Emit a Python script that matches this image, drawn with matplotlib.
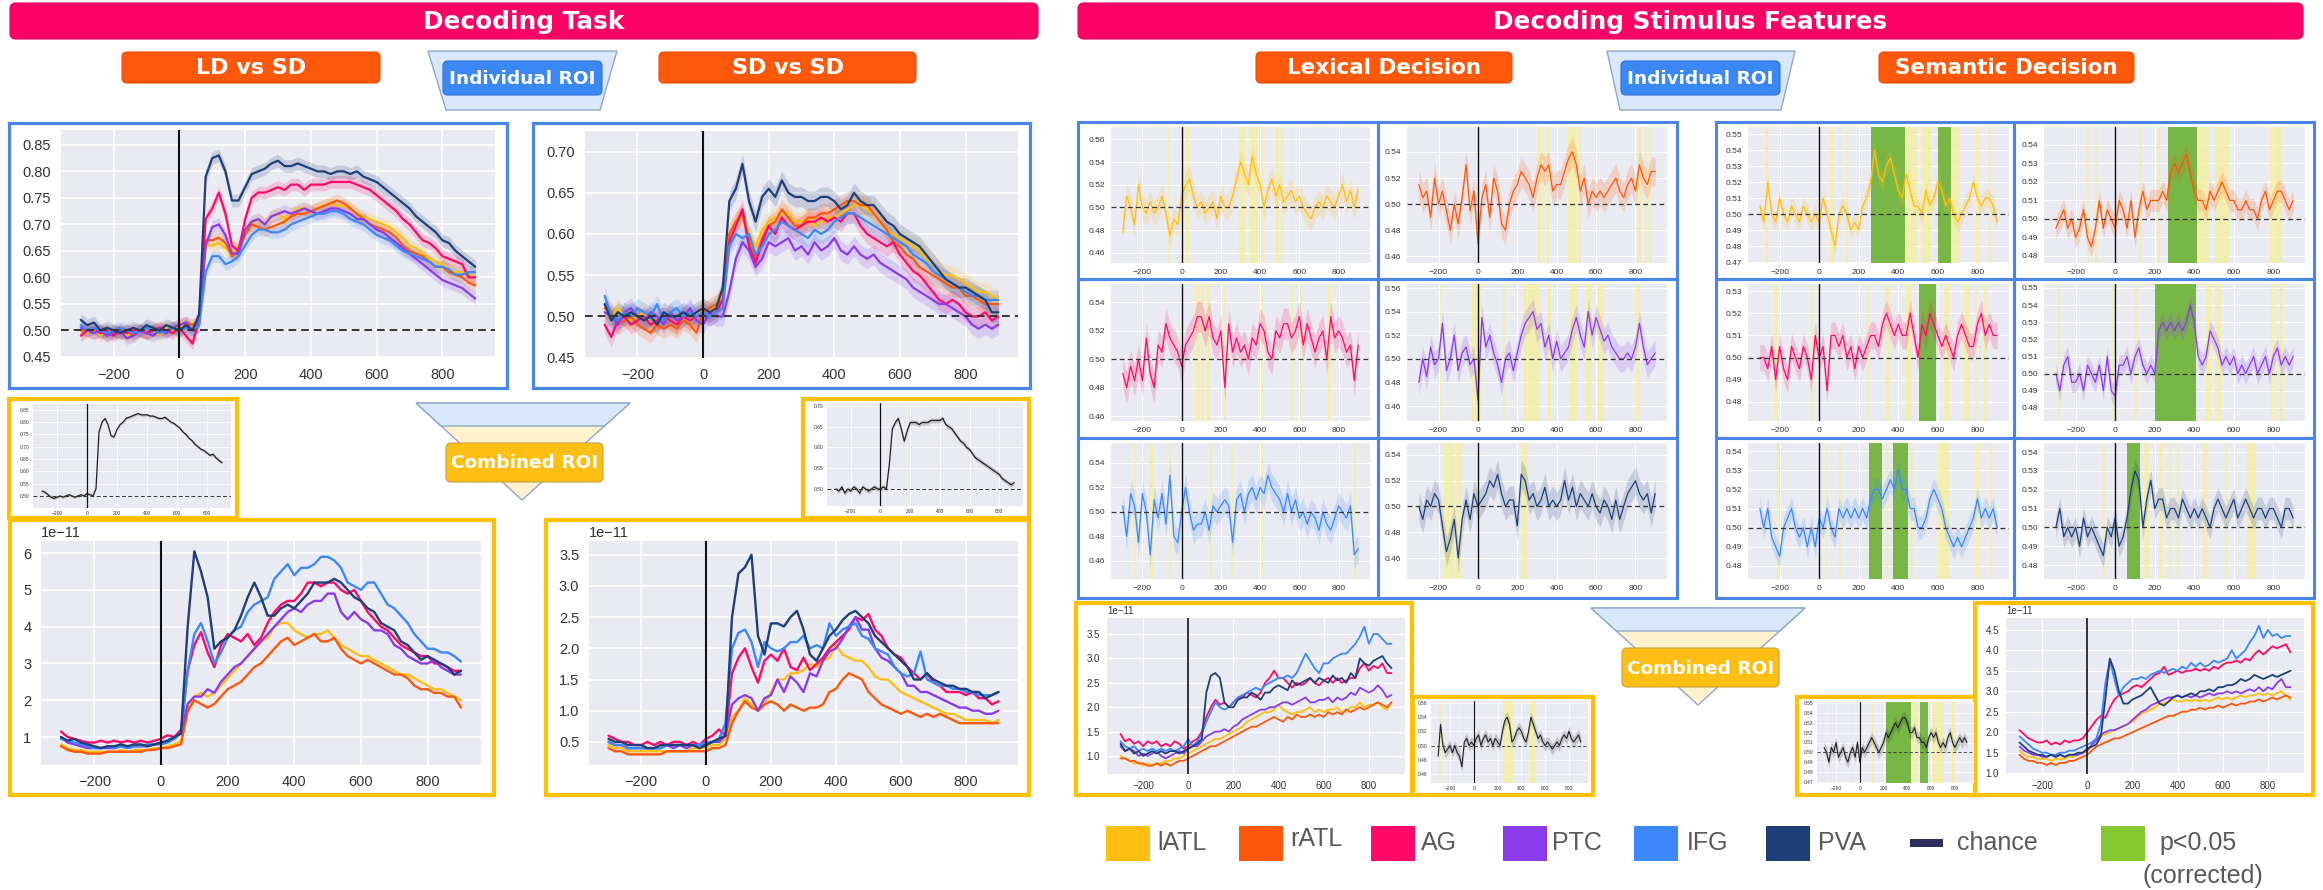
import numpy as np
import matplotlib
matplotlib.use("Agg")
import matplotlib.pyplot as plt
import seaborn as sns
from matplotlib.patches import Rectangle, FancyBboxPatch, Polygon
from matplotlib.ticker import FormatStrFormatter

sns.set_style("darkgrid")
plt.rcParams['font.family'] = ['Liberation Sans', 'DejaVu Sans']

# ---------------- data ----------------
T = list(range(-300, 901, 20))
roi_names = ['lATL', 'rATL', 'AG', 'PTC', 'IFG', 'PVA']
roi_colors = ['#FFBF10', '#FC580C', '#FF0A68', '#8A3CEA', '#3B88FD', '#1F3F78']
xticks = [-200, 0, 200, 400, 600, 800]

# Decoding task, LD vs SD, individual ROI
A_lATL = [.50,.495,.505,.49,.50,.495,.50,.49,.495,.50,.495,.50,.49,.505,.50,.51,.505,.51,
          .52,.66,.66,.665,.655,.645,.66,.69,.70,.71, .70,.715,.72,.71,.72,.73,.73,.725,.73,.735,
          .74,.735,.735,.73,.72,.715,.71,.705,.70,.695, .685,.675,.66,.655,.645,.635,.63,.625,.615,.61, .61,.605,.60]
A_rATL = [.50,.50,.495,.50,.49,.50,.495,.50,.49,.50,.495,.50,.505,.50,.505,.51,.515,.51,
          .52,.67,.67,.675,.665,.64,.65,.68,.70,.695, .69,.695,.70,.705,.715,.72,.72,.725,.73,.735,
          .74,.745,.74,.73,.72,.71,.70,.695,.69,.685, .675,.66,.65,.645,.64,.63,.62,.62,.61,.605, .60,.59,.585]
A_AG = [.49,.50,.505,.495,.50,.49,.50,.495,.50,.50,.495,.50,.505,.50,.495,.505,.49,.475,
        .52,.71,.73,.76,.72,.66,.65,.71,.75,.76, .76,.765,.77,.765,.775,.775,.765,.775,.775,.775,
        .78,.78,.78,.78,.775,.77,.765,.755,.745,.735, .725,.71,.70,.685,.67,.665,.655,.64,.635,.63, .625,.60,.60]
A_PTC = [.505,.50,.495,.50,.49,.495,.50,.485,.49,.50,.495,.49,.50,.495,.505,.51,.515,.50,
         .51,.66,.695,.70,.68,.645,.645,.69,.705,.71, .70,.715,.72,.725,.72,.725,.73,.725,.72,.725,
         .73,.73,.725,.72,.71,.71,.70,.69,.685,.675, .665,.655,.645,.635,.625,.615,.605,.595,.59,.585, .58,.57,.56]
A_IFG = [.51,.50,.505,.50,.495,.50,.505,.50,.495,.50,.505,.50,.495,.50,.505,.50,.505,.50,
         .51,.61,.64,.64,.625,.63,.64,.66,.68,.69, .69,.685,.685,.69,.70,.705,.71,.715,.72,.72,
         .725,.725,.72,.71,.705,.70,.69,.68,.675,.67, .66,.65,.645,.64,.635,.63,.62,.62,.615,.605, .605,.61,.61]
A_PVA = [.52,.51,.515,.50,.505,.50,.495,.50,.505,.50,.51,.505,.50,.51,.505,.50,.51,.50,
         .53,.79,.825,.83,.80,.745,.745,.77,.795,.80, .805,.815,.82,.81,.81,.815,.81,.805,.80,.80,
         .795,.80,.80,.795,.80,.79,.785,.78,.77,.76, .75,.74,.73,.715,.705,.695,.685,.67,.665,.65, .64,.63,.62]

# Decoding task, SD vs SD, individual ROI
B_lATL = [.505,.50,.51,.50,.495,.50,.505,.49,.495,.50,.495,.49,.50,.495,.50,.51,.505,.515,
          .525,.60,.615,.62,.60,.585,.605,.615,.62,.625, .625,.615,.615,.62,.61,.615,.62,.62,.625,.63,
          .635,.635,.63,.625,.615,.605,.60,.595,.59,.585, .58,.57,.565,.555,.55,.55,.545,.54,.535,.53, .53,.525,.52]
B_rATL = [.51,.505,.49,.495,.50,.49,.485,.48,.49,.485,.49,.485,.495,.49,.48,.505,.51,.515,
          .52,.60,.615,.625,.59,.57,.595,.61,.615,.63, .62,.61,.61,.62,.62,.625,.625,.63,.635,.64,
          .64,.635,.635,.625,.615,.605,.59,.585,.575,.57, .56,.555,.55,.545,.54,.535,.535,.525,.525,.52, .515,.515,.515]
B_AG = [.49,.475,.495,.50,.49,.495,.50,.49,.495,.50,.495,.49,.50,.495,.50,.505,.50,.505,
        .52,.59,.61,.63,.585,.565,.59,.61,.60,.62, .61,.605,.61,.615,.615,.62,.615,.62,.615,.625,
        .625,.61,.60,.595,.59,.585,.59,.575,.565,.555, .55,.54,.53,.52,.515,.52,.515,.505,.50,.50, .505,.495,.50]
B_PTC = [.505,.50,.49,.505,.51,.50,.495,.505,.50,.49,.505,.495,.50,.51,.495,.49,.505,.50,
         .50,.53,.57,.59,.58,.56,.57,.59,.585,.59, .595,.58,.585,.575,.59,.58,.585,.595,.58,.575,
         .585,.575,.57,.575,.565,.56,.555,.55,.545,.535, .53,.525,.52,.515,.515,.51,.505,.50,.49,.485, .49,.485,.49]
B_IFG = [.525,.50,.495,.505,.50,.51,.505,.50,.515,.495,.505,.51,.50,.505,.50,.505,.50,.505,
         .51,.585,.60,.595,.60,.575,.585,.60,.605,.615, .61,.605,.60,.595,.605,.60,.605,.615,.62,.625,
         .625,.62,.615,.61,.605,.60,.595,.59,.585,.575, .57,.565,.555,.55,.545,.54,.535,.53,.525,.525, .52,.52,.52]
B_PVA = [.515,.495,.505,.50,.505,.50,.495,.50,.49,.505,.50,.50,.505,.50,.505,.51,.505,.51,
         .535,.64,.655,.685,.64,.615,.645,.655,.645,.665, .65,.645,.645,.64,.64,.645,.645,.64,.63,.635,
         .65,.64,.635,.635,.625,.615,.61,.60,.595,.59, .585,.575,.565,.555,.545,.54,.535,.535,.53,.525, .52,.505,.505]

# Decoding task, combined ROI accuracy
A_comb = [.52,.515,.505,.495,.49,.495,.50,.495,.50,.505,.50,.495,.50,.505,.50,.51,.505,.50,
          .53,.76,.80,.815,.79,.745,.74,.77,.79,.80, .815,.82,.825,.83,.835,.83,.83,.83,.825,.825,
          .82,.815,.815,.82,.81,.80,.795,.785,.775,.76, .75,.735,.725,.71,.70,.69,.685,.675,.665,.67, .655,.645,.635]
B_comb = [.50,.495,.505,.49,.50,.495,.505,.50,.49,.505,.50,.495,.50,.505,.50,.50,.505,.50,
          .56,.645,.66,.67,.645,.615,.64,.66,.66,.66, .655,.66,.66,.66,.665,.665,.665,.665,.67,.655,
          .65,.645,.635,.625,.615,.61,.60,.595,.585,.575, .57,.565,.56,.555,.55,.545,.54,.535,.525,.52, .515,.51,.515]

# Decoding task, combined ROI activation patterns (x 1e-11)
Aw_lATL = [.8,.7,.65,.65,.6,.6,.6,.6,.6,.65,.6,.65,.65,.65,.7,.7,.75,.8,
           .9,1.8,2.1,2.2,2.1,2.2,2.4,2.6,2.8,3.0, 3.2,3.4,3.6,3.7,4.0,4.1,4.1,3.9,3.8,3.7,
           3.8,3.8,3.9,3.7,3.5,3.4,3.3,3.2,3.2,3.1, 3.0,2.9,2.8,2.7,2.7,2.6,2.5,2.4,2.3,2.3, 2.2,2.1,2.0]
Aw_rATL = [.75,.65,.6,.6,.55,.55,.55,.6,.6,.6,.6,.6,.6,.65,.65,.7,.7,.75,
           .8,1.7,2.0,1.9,1.8,1.9,2.1,2.3,2.4,2.5, 2.7,2.9,3.0,3.2,3.4,3.6,3.7,3.5,3.6,3.7,
           3.8,3.6,3.6,3.7,3.4,3.2,3.1,3.0,3.1,3.0, 2.9,2.8,2.7,2.7,2.6,2.4,2.3,2.3,2.2,2.2, 2.1,2.1,1.8]
Aw_AG = [1.15,1.0,.95,.9,.85,.85,.9,.85,.9,.85,.9,.85,.9,.85,.9,.95,1.05,1.0,
         1.2,2.8,3.5,3.85,3.3,2.9,3.5,3.8,3.7,3.6, 3.8,3.5,3.7,4.1,4.4,4.6,4.7,4.7,4.9,5.2,
         5.2,5.1,5.2,5.2,5.0,4.9,5.0,4.7,4.4,4.2, 4.0,3.9,3.7,3.5,3.4,3.3,3.2,3.2,3.0,3.0, 2.9,2.8,2.8]
Aw_PTC = [1.0,.85,.8,.75,.7,.7,.7,.7,.7,.75,.7,.75,.75,.75,.8,.85,.9,1.0,
          1.1,1.9,2.1,2.1,2.3,2.2,2.5,2.7,2.9,3.0, 3.2,3.4,3.6,3.8,4.0,4.2,4.4,4.5,4.4,4.6,
          4.7,4.7,4.9,4.9,4.4,4.2,4.4,4.2,4.1,3.9, 3.9,3.8,3.5,3.4,3.2,3.1,3.0,3.0,3.1,2.9, 2.8,2.7,2.7]
Aw_IFG = [.95,.9,.85,.8,.75,.7,.7,.75,.7,.75,.7,.75,.75,.8,.8,.8,.85,.95,
          1.1,2.8,3.8,4.1,3.6,3.0,3.3,3.7,3.9,4.0, 4.4,4.6,4.7,4.8,5.3,5.5,5.7,5.4,5.6,5.6,
          5.7,5.9,5.9,5.8,5.6,5.2,5.1,5.0,5.2,5.2, 4.9,4.6,4.5,4.3,4.1,3.8,3.6,3.4,3.4,3.3, 3.3,3.2,3.05]
Aw_PVA = [1.0,.9,.95,.85,.8,.75,.7,.75,.75,.8,.75,.8,.8,.75,.8,.85,.9,1.0,
          1.1,4.0,6.05,5.5,4.8,3.4,3.6,3.7,3.9,4.3, 4.8,5.2,4.8,4.3,4.3,4.5,4.6,4.5,4.7,4.9,
          5.2,5.2,5.2,5.3,5.2,5.0,4.8,4.7,4.5,4.4, 4.1,4.0,3.9,3.6,3.5,3.3,3.1,3.2,3.1,3.0, 2.9,2.7,2.8]

Bw_lATL = [.45,.4,.4,.35,.35,.35,.35,.35,.35,.35,.35,.35,.35,.4,.4,.4,.45,.45,
           .55,.9,1.0,1.2,1.1,1.0,1.1,1.3,1.5,1.5, 1.6,1.6,1.65,1.75,1.7,1.8,1.85,2.05,1.9,1.85,
           1.8,1.8,1.7,1.55,1.5,1.5,1.4,1.3,1.25,1.2, 1.15,1.1,1.05,1.0,.95,.95,.9,.85,.85,.85, .85,.8,.85]
Bw_rATL = [.4,.35,.35,.3,.3,.3,.3,.3,.3,.35,.35,.35,.35,.35,.35,.35,.4,.4,
           .45,.8,1.0,1.15,1.05,1.0,1.1,1.15,1.1,1.0, 1.1,1.05,1.0,1.05,1.05,1.1,1.3,1.35,1.5,1.6,
           1.55,1.5,1.3,1.2,1.1,1.05,1.0,.95,1.0,.95, .9,.95,.9,.95,.9,.85,.8,.8,.8,.8, .8,.8,.8]
Bw_AG = [.6,.55,.5,.5,.45,.45,.5,.45,.5,.45,.5,.5,.45,.5,.45,.55,.6,.7,
         .6,1.6,1.85,2.0,1.7,1.45,1.8,1.9,1.8,2.0, 1.7,1.65,1.85,1.65,1.75,1.85,2.0,2.1,2.2,2.3,
         2.5,2.45,2.55,2.3,2.2,2.0,1.9,1.85,1.7,1.6, 1.5,1.6,1.45,1.4,1.3,1.3,1.3,1.25,1.3,1.2, 1.2,1.1,1.15]
Bw_PTC = [.5,.45,.45,.4,.4,.4,.4,.4,.4,.45,.4,.45,.4,.45,.45,.45,.5,.5,
          .6,1.1,1.2,1.25,1.2,1.0,1.2,1.25,1.5,1.3, 1.55,1.45,1.3,1.6,1.55,1.8,1.95,2.0,2.15,2.35,
          2.5,2.3,2.3,2.0,1.85,1.8,1.7,1.6,1.4,1.4, 1.3,1.3,1.25,1.2,1.15,1.1,1.05,1.05,1.0,1.0, .95,.95,1.0]
Bw_IFG = [.5,.45,.45,.4,.4,.4,.4,.4,.4,.45,.45,.45,.45,.45,.45,.5,.5,.55,
          .8,2.0,2.25,2.3,2.1,1.7,2.1,2.0,1.95,2.0, 2.1,2.1,2.2,2.0,2.05,2.0,2.4,2.2,2.3,2.35,
          2.4,2.2,2.15,2.0,1.95,1.9,1.7,1.6,1.55,1.6, 1.95,1.5,1.45,1.4,1.4,1.35,1.35,1.3,1.3,1.25, 1.25,1.25,1.3]
Bw_PVA = [.55,.5,.5,.45,.45,.45,.4,.4,.45,.45,.45,.45,.45,.45,.4,.45,.5,.55,
          .6,2.5,3.2,3.3,3.5,2.2,1.9,2.4,2.4,2.35, 2.5,2.6,2.3,1.9,1.8,2.0,2.2,2.3,2.45,2.55,
          2.6,2.5,2.4,2.2,2.1,2.0,1.9,1.8,1.7,1.5, 1.5,1.6,1.5,1.45,1.4,1.4,1.35,1.35,1.3,1.3, 1.2,1.25,1.3]

# Stimulus features, lexical decision, individual ROI
L_lATL = [.478,.51,.50,.485,.52,.50,.495,.505,.495,.50, .51,.495,.475,.49,.485,.51,.52,.525,.51,.50,
          .505,.495,.50,.505,.49,.51,.50,.50,.51,.525, .54,.53,.52,.545,.53,.52,.50,.515,.525,.51,
          .52,.505,.51,.515,.505,.51,.50,.495,.49,.50, .505,.50,.51,.505,.50,.51,.52,.505,.515,.50, .515]
L_rATL = [.515,.505,.51,.49,.52,.50,.51,.495,.48,.50, .485,.505,.53,.495,.51,.47,.505,.515,.49,.52,
          .51,.485,.48,.50,.51,.515,.525,.52,.515,.505, .52,.53,.525,.53,.51,.515,.515,.525,.535,.54,
          .53,.51,.52,.50,.51,.505,.51,.505,.51,.515, .52,.51,.505,.515,.52,.51,.53,.52,.515,.525, .525]
L_AG = [.49,.48,.495,.485,.50,.485,.515,.49,.48,.51, .505,.525,.515,.51,.505,.495,.51,.515,.52,.53,
        .53,.52,.53,.515,.51,.52,.48,.525,.505,.515, .505,.51,.50,.515,.51,.525,.52,.505,.50,.52,
        .515,.525,.525,.515,.52,.53,.51,.525,.515,.505, .515,.52,.50,.53,.515,.52,.515,.505,.51,.485, .51]
L_PTC = [.48,.50,.485,.51,.495,.50,.53,.49,.50,.52, .49,.505,.51,.495,.50,.465,.535,.51,.52,.505,
         .495,.48,.50,.505,.49,.505,.52,.53,.535,.54, .525,.53,.51,.52,.50,.515,.50,.505,.51,.525,
         .535,.52,.51,.54,.52,.535,.525,.515,.52,.51, .505,.50,.50,.505,.50,.51,.53,.51,.495,.50, .505]
L_IFG = [.505,.48,.515,.505,.475,.515,.50,.465,.51,.495, .515,.49,.53,.48,.475,.50,.52,.50,.485,.49,
         .49,.50,.485,.505,.50,.505,.51,.505,.475,.51, .515,.50,.515,.52,.51,.52,.515,.53,.52,.515,
         .51,.50,.515,.50,.51,.495,.50,.49,.50,.495, .485,.50,.49,.485,.495,.505,.50,.495,.505,.465, .47]
L_PVA = [.50,.49,.505,.50,.51,.505,.485,.465,.475,.49, .46,.49,.505,.49,.51,.50,.505,.51,.52,.515,
         .525,.51,.50,.505,.505,.485,.525,.52,.505,.51, .50,.505,.515,.50,.505,.50,.505,.52,.505,.515,
         .50,.51,.505,.50,.51,.50,.495,.505,.50,.49, .505,.49,.50,.51,.515,.52,.51,.505,.51,.495, .51]

# Stimulus features, semantic decision, individual ROI
S_lATL = [.505,.495,.52,.50,.495,.51,.50,.495,.505,.50, .495,.505,.50,.495,.50,.495,.51,.50,.49,.48,
          .50,.505,.50,.49,.495,.49,.505,.51,.52,.54, .525,.52,.53,.535,.525,.515,.51,.525,.515,.505,
          .505,.50,.515,.505,.51,.52,.515,.505,.51,.50, .495,.50,.505,.51,.52,.51,.505,.51,.51,.505, .495]
S_rATL = [.495,.50,.505,.495,.50,.49,.495,.505,.49,.485, .495,.51,.495,.505,.50,.495,.51,.505,.495,.51,
          .49,.505,.515,.505,.51,.51,.51,.515,.51,.525, .53,.525,.53,.535,.525,.515,.51,.51,.505,.515,
          .51,.515,.52,.515,.51,.51,.505,.505,.51,.505, .505,.50,.51,.515,.505,.51,.515,.515,.51,.505, .51]
S_AG = [.50,.50,.495,.505,.49,.505,.495,.49,.505,.50, .495,.505,.50,.49,.51,.50,.505,.485,.51,.51,
        .505,.51,.50,.505,.495,.505,.50,.505,.51,.51, .505,.515,.52,.515,.51,.515,.51,.51,.52,.51,
        .50,.515,.51,.52,.515,.51,.505,.51,.505,.50, .51,.515,.51,.505,.505,.515,.52,.51,.515,.51, .51]
S_PTC = [.50,.49,.505,.51,.495,.495,.50,.49,.505,.50, .495,.505,.49,.51,.49,.487,.505,.505,.51,.50,
         .51,.515,.505,.50,.505,.50,.525,.53,.525,.53, .525,.53,.525,.53,.54,.53,.51,.505,.51,.525,
         .52,.515,.505,.51,.505,.51,.50,.505,.50,.505, .51,.50,.505,.51,.50,.51,.515,.505,.51,.505, .51]
S_IFG = [.51,.50,.51,.495,.49,.485,.50,.505,.51,.50, .495,.50,.49,.50,.49,.505,.50,.51,.50,.495,
         .51,.505,.51,.505,.51,.505,.51,.505,.515,.52, .52,.515,.52,.525,.52,.53,.52,.52,.51,.51,
         .50,.50,.505,.515,.52,.515,.51,.50,.495,.49, .495,.49,.495,.50,.505,.515,.505,.51,.505,.51, .50]
S_PVA = [.50,.51,.495,.50,.495,.50,.49,.505,.495,.50, .495,.49,.485,.50,.495,.505,.49,.495,.505,.52,
         .53,.525,.50,.515,.525,.51,.515,.515,.505,.51, .51,.505,.515,.51,.505,.51,.505,.51,.505,.50,
         .51,.515,.51,.505,.51,.515,.505,.51,.515,.51, .505,.51,.51,.505,.51,.51,.505,.50,.51,.51, .505]

# Stimulus features, combined ROI accuracy
L_comb = [.485,.53,.50,.49,.495,.50,.49,.50,.49,.485, .47,.505,.51,.50,.505,.50,.51,.515,.50,.51,
          .515,.505,.51,.50,.51,.505,.50,.52,.535,.54, .53,.505,.51,.52,.525,.52,.51,.505,.52,.54,
          .53,.52,.51,.515,.505,.50,.505,.50,.495,.50, .505,.50,.51,.515,.51,.52,.51,.505,.51,.515, .505]
S_comb = [.505,.50,.49,.505,.50,.51,.495,.50,.505,.495, .49,.50,.505,.495,.51,.49,.505,.50,.505,.51,
          .515,.51,.505,.50,.505,.51,.52,.515,.52,.525, .53,.525,.53,.535,.535,.53,.52,.52,.525,.515,
          .515,.51,.51,.505,.515,.52,.515,.52,.51,.505, .51,.505,.515,.52,.51,.505,.51,.515,.51,.515, .51]

# Stimulus features, combined ROI activation patterns (x 1e-11)
Lw_lATL = [1.0,.95,.9,.85,.85,.8,.85,.8,.85,.85,.9,.9,.95,.95,1.0,1.05,1.1,1.15,
           1.2,1.25,1.3,1.35,1.35,1.4,1.45,1.5,1.55,1.6, 1.7,1.75,1.8,1.85,1.9,1.9,1.95,2.05,1.95,1.9,
           1.85,1.9,1.9,1.95,2.0,1.9,1.95,1.9,1.95,1.95, 2.0,1.9,1.95,2.0,2.0,2.1,2.0,2.05,2.05,2.1, 2.0,1.95,2.1]
Lw_rATL = [.95,.95,.9,.9,.85,.85,.8,.8,.85,.8,.85,.8,.85,.9,.9,.95,1.0,1.05,
           1.1,1.15,1.2,1.2,1.25,1.3,1.35,1.4,1.45,1.5, 1.55,1.6,1.6,1.65,1.7,1.75,1.8,1.75,1.7,1.8,
           1.75,1.85,1.8,1.8,1.85,1.8,1.85,1.8,1.9,1.85, 1.9,1.85,1.95,1.9,1.95,2.0,1.95,2.0,2.05,2.1, 2.05,2.0,2.1]
Lw_AG = [1.45,1.3,1.35,1.25,1.3,1.2,1.3,1.25,1.3,1.2,1.25,1.2,1.3,1.25,1.15,1.2,1.3,1.35,
         1.5,1.8,2.0,2.15,2.05,2.1,2.0,2.1,2.2,2.2, 2.3,2.25,2.2,2.3,2.5,2.6,2.75,2.6,2.6,2.5,
         2.4,2.5,2.45,2.5,2.6,2.5,2.45,2.55,2.6,2.5, 2.6,2.5,2.55,2.6,2.6,2.8,2.9,2.75,2.85,2.8, 2.9,2.7,2.7]
Lw_PTC = [1.2,1.1,1.15,1.1,1.0,1.05,1.0,1.05,1.1,1.0,.95,1.0,1.05,1.1,1.05,1.15,1.2,1.2,
          1.3,1.4,1.45,1.5,1.5,1.55,1.5,1.6,1.65,1.75, 1.8,1.85,1.9,1.95,1.95,2.0,2.0,2.05,2.1,2.1,
          2.05,2.1,2.15,2.2,2.1,2.1,2.15,2.15,2.2,2.1, 2.2,2.15,2.2,2.3,2.25,2.4,2.35,2.3,2.35,2.45, 2.35,2.2,2.25]
Lw_IFG = [1.3,1.2,1.15,1.2,1.1,1.15,1.1,1.15,1.1,1.15,1.1,1.15,1.1,1.15,1.2,1.35,1.2,1.3,
          1.45,1.7,1.9,2.1,2.0,1.95,2.0,2.1,2.2,2.25, 2.3,2.35,2.4,2.35,2.45,2.5,2.55,2.6,2.6,2.65,
          2.6,2.7,2.9,3.1,2.95,2.8,2.7,2.9,2.9,3.0, 3.05,3.1,3.1,3.2,3.3,3.45,3.65,3.3,3.5,3.5, 3.4,3.3,3.3]
Lw_PVA = [1.25,1.1,1.15,1.05,1.1,1.0,1.05,1.1,1.05,1.1,1.05,1.1,1.1,1.05,1.1,1.15,1.2,1.25,
          1.35,2.3,2.65,2.7,2.6,2.1,2.0,2.0,2.15,2.2, 2.2,2.3,2.25,2.15,2.3,2.3,2.4,2.45,2.4,2.35,
          2.55,2.45,2.5,2.55,2.6,2.5,2.6,2.55,2.5,2.65, 2.55,2.6,2.5,2.7,2.6,3.0,2.9,2.85,2.95,3.0, 3.05,2.9,2.8]

Sw_lATL = [1.55,1.45,1.4,1.4,1.35,1.35,1.35,1.3,1.35,1.35,1.35,1.4,1.4,1.45,1.5,1.55,1.65,1.75,
           1.9,1.95,2.0,2.05,2.1,2.15,2.2,2.25,2.35,2.45, 2.5,2.55,2.6,2.7,2.7,2.75,2.8,2.75,2.75,2.8,
           2.75,2.8,2.75,2.8,2.75,2.8,2.85,2.8,2.85,2.8, 2.85,2.9,2.85,2.9,2.9,2.95,2.9,2.95,2.9,2.95, 3.0,2.9,2.8]
Sw_rATL = [1.45,1.35,1.3,1.3,1.25,1.25,1.2,1.25,1.2,1.25,1.25,1.3,1.3,1.35,1.4,1.45,1.55,1.65,
           1.7,1.75,1.8,1.85,1.85,1.9,1.95,2.0,2.05,2.1, 2.15,2.2,2.25,2.3,2.35,2.4,2.4,2.45,2.5,2.5,
           2.55,2.55,2.6,2.55,2.6,2.6,2.65,2.6,2.65,2.7, 2.65,2.7,2.7,2.75,2.75,2.8,2.75,2.8,2.85,2.8, 2.85,2.9,2.85]
Sw_AG = [2.05,1.95,1.85,1.8,1.75,1.75,1.8,1.7,1.75,1.7,1.8,1.75,1.8,1.8,1.85,2.0,2.15,2.3,
         2.4,2.35,2.6,2.8,2.9,2.95,3.0,3.1,3.15,3.1, 3.2,3.3,3.4,3.45,3.6,3.4,3.45,3.5,3.45,3.5,
         3.5,3.55,3.5,3.55,3.5,3.6,3.55,3.65,3.7,3.7, 3.75,3.7,3.8,3.75,3.9,4.0,3.9,4.0,4.1,4.05, 4.1,4.15,3.95]
Sw_PTC = [1.65,1.55,1.5,1.45,1.45,1.4,1.4,1.45,1.4,1.45,1.4,1.45,1.45,1.45,1.5,1.55,1.7,1.8,
          1.95,2.0,2.05,2.05,2.1,2.15,2.2,2.3,2.4,2.5, 2.55,2.65,2.7,2.75,2.8,2.85,2.85,2.9,2.85,2.9,
          2.85,2.9,2.85,2.9,2.95,2.9,2.95,2.95,3.0,2.95, 3.0,2.95,3.0,3.05,3.0,3.1,3.0,3.1,3.05,3.2, 3.3,3.1,3.1]
Sw_IFG = [1.9,1.8,1.7,1.6,1.55,1.5,1.5,1.45,1.45,1.5,1.5,1.55,1.55,1.6,1.65,1.7,1.75,1.85,
          2.2,3.2,3.75,3.3,2.9,3.1,3.2,3.3,3.3,3.35, 3.3,3.4,3.45,3.5,3.45,3.5,3.55,3.5,3.6,3.55,
          3.7,3.6,3.7,3.6,3.65,3.75,3.7,3.75,3.8,4.0, 3.8,3.9,4.0,4.2,4.35,4.6,4.3,4.5,4.35,4.4, 4.3,4.35,4.35]
Sw_PVA = [1.75,1.65,1.55,1.5,1.45,1.45,1.4,1.45,1.4,1.45,1.4,1.45,1.45,1.5,1.5,1.6,1.65,1.7,
          1.9,2.8,3.8,3.5,3.0,2.7,2.7,2.8,2.85,2.9, 3.0,3.1,2.9,2.7,2.65,2.75,2.85,2.9,2.85,2.9,
          2.95,2.9,3.0,3.0,3.05,3.0,3.1,3.1,3.15,3.15, 3.2,3.3,3.25,3.3,3.4,3.35,3.3,3.35,3.4,3.35, 3.4,3.45,3.5]

# significant time windows (ms): uncorrected (yellow) and corrected (green)
L_yel_lATL = [(-70,-60),(20,40),(290,325),(350,390),(405,415),(480,495),(505,515),(555,565)]
L_yel_rATL = [(300,320),(330,340),(350,360),(457,502),(515,525),(810,835),(850,860),(870,880)]
L_yel_AG = [(73,95),(99,113),(122,143),(215,225),(405,413),(555,567),(603,615),(745,760)]
L_yel_PTC = [(-195,-185),(-28,22),(125,135),(232,248),(252,313),(357,373),(466,502),(547,578),(608,638),(800,822)]
L_yel_IFG = [(-244,-234),(-165,-145),(-63,-53),(143,153),(250,260),(405,415),(878,890)]
L_yel_PVA = [(-170,-123),(-110,-80),(220,255)]
S_yel_lATL = [(-273,-260),(53,73),(138,148),(437,493),(513,563),(670,710),(795,815),(860,870)]
S_yel_rATL = [(-145,-130),(-100,-85),(122,138),(210,225),(416,477),(507,578),(785,845)]
S_yel_AG = [(-228,-215),(-43,-33),(242,252),(335,357),(434,469),(631,655),(730,765),(790,803),(835,852)]
S_yel_PTC = [(-290,-280),(-15,-5),(100,115),(457,487),(507,537),(790,810),(833,850)]
S_yel_IFG = [(-212,-198),(32,42),(98,108),(335,350),(462,477),(596,655),(795,810),(864,875)]
S_yel_PVA = [(-62,-52),(148,173),(222,242),(270,280),(313,323),(442,467),(553,563),(666,712)]
S_grn_lATL = [(262,434),(602,665)]
S_grn_rATL = [(268,414)]
S_grn_AG = [(507,593)]
S_grn_PTC = [(203,410)]
S_grn_IFG = [(252,320),(374,449)]
S_grn_PVA = [(58,128)]
L_comb_yel = [(-295,-280),(-95,-80),(245,330),(470,520)]
S_comb_yel = [(-245,-235),(-75,-65),(105,115),(435,490),(610,710),(775,810)]
S_comb_grn = [(218,428),(503,570)]

# y ticks of the stimulus panels
L_yt = [[.46,.48,.50,.52,.54,.56], [.46,.48,.50,.52,.54], [.46,.48,.50,.52,.54],
        [.46,.48,.50,.52,.54,.56], [.46,.48,.50,.52,.54], [.46,.48,.50,.52,.54]]
S_yt = [[.47,.48,.49,.50,.51,.52,.53,.54,.55], [.48,.49,.50,.51,.52,.53,.54], [.48,.49,.50,.51,.52,.53],
        [.48,.49,.50,.51,.52,.53,.54,.55], [.48,.49,.50,.51,.52,.53,.54], [.48,.49,.50,.51,.52,.53,.54]]

# ---------------- figure ----------------
W, H = 2323, 890
fig = plt.figure(figsize=(W / 100, H / 100), dpi=100)
bg = fig.add_axes([0, 0, 1, 1])
bg.set_xlim(0, W)
bg.set_ylim(H, 0)
bg.axis('off')

BLUE = '#4A86E8'
GOLD = '#FFC000'
YEL = '#F6F09A'
GRN = '#72B43C'
HFONT = 'DejaVu Sans'


def add_ax(x0, x1, y0, y1):
    return fig.add_axes([x0 / W, 1 - y1 / H, (x1 - x0) / W, (y1 - y0) / H])


def panel(box, series, colors, ylim, yticks, fs, lw, sem=None, chance=True,
          yel=(), grn=(), glw=1.0, pad=5, scale=1.0, vlw=1.5, fmt='%.2f', dlw=1.4):
    ax = add_ax(*box)
    ax.set_facecolor('#EAEAF2')
    for a, b in yel:
        ax.axvspan(a, b, color=YEL, alpha=0.75, lw=0, zorder=1)
    for a, b in grn:
        ax.axvspan(a, b, color=GRN, alpha=0.95, lw=0, zorder=1.1)
    for y, c in zip(series, colors):
        yv = np.array(y) * scale
        if sem is not None:
            ax.fill_between(T, yv - sem * scale, yv + sem * scale, color=c, alpha=0.18, lw=0, zorder=2)
        ax.plot(T, yv, color=c, lw=lw, zorder=3)
    ax.axvline(0, color='#111111', lw=vlw, zorder=4)
    if chance:
        ax.axhline(0.5, color='#333333', lw=dlw, ls=(0, (4, 2.5)), zorder=4)
    ax.set_xlim(-360, 960)
    ax.set_ylim(ylim[0] * scale, ylim[1] * scale)
    ax.set_xticks(xticks)
    ax.set_yticks([v * scale for v in yticks])
    if fmt:
        ax.yaxis.set_major_formatter(FormatStrFormatter(fmt))
    ax.grid(True, color='white', lw=glw)
    ax.set_axisbelow(True)
    for s in ax.spines.values():
        s.set_visible(False)
    ax.tick_params(length=0, labelsize=fs, pad=pad, colors='#333333')
    ax.yaxis.get_offset_text().set_fontsize(fs)
    ax.yaxis.get_offset_text().set_color('#333333')
    return ax


def frame(x0, x1, y0, y1, color, lw):
    bg.add_patch(Rectangle((x0, y0), x1 - x0, y1 - y0, fill=False, ec=color, lw=lw, zorder=5))


def rbox(x0, x1, y0, y1, fc, ec, text, fs, r=5):
    bg.add_patch(FancyBboxPatch((x0, y0), x1 - x0, y1 - y0,
                                boxstyle=f'round,pad=0,rounding_size={r}', fc=fc, ec=ec, lw=0.8, zorder=6))
    bg.text((x0 + x1) / 2, (y0 + y1) / 2 + 1, text, color='white', fontsize=fs, fontweight='bold',
            family=HFONT, ha='center', va='center', zorder=7)


# header banners and boxes
rbox(10, 1038, 3, 39, '#FF0066', '#E8005C', 'Decoding Task', 17.8, r=6)
rbox(1078, 2303, 3, 39, '#FF0066', '#E8005C', 'Decoding Stimulus Features', 17.8, r=6)
rbox(122, 380, 52, 83, '#FE590B', '#E84E05', 'LD vs SD', 16)
rbox(659, 916, 52, 83, '#FE590B', '#E84E05', 'SD vs SD', 16)
rbox(1256, 1512, 52, 83, '#FE590B', '#E84E05', 'Lexical Decision', 15.5)
rbox(1879, 2134, 52, 83, '#FE590B', '#E84E05', 'Semantic Decision', 15.5)

# "Individual ROI" trapezoids
for (tl, tr, bl, br, bx0, bx1) in [(428, 617, 446, 600, 443, 602), (1607, 1795, 1620, 1781, 1621, 1780)]:
    bg.add_patch(Polygon([[tl, 51], [tr, 51], [br, 110], [bl, 110]], closed=True,
                         fc='#DAE8FC', ec='#8EA9C9', lw=1, zorder=4))
    rbox(bx0, bx1, 61, 95, '#3C87F6', '#2F6FD6', 'Individual ROI', 13.3)

# "Combined ROI" funnels
for (xl, xr, yt, xt, yb) in [(416, 630, 403, 522, 500), (1591, 1805, 608, 1698, 705)]:
    bg.add_patch(Polygon([[xl, yt], [xr, yt], [xt, yb]], closed=True, fc='#FFF2CC', ec='#8EA9C9', lw=1, zorder=4))
    yband = yt + 23
    fl = (yband - yt) / (yb - yt)
    bg.add_patch(Polygon([[xl, yt], [xr, yt], [xr + (xt - xr) * fl, yband], [xl + (xt - xl) * fl, yband]],
                         closed=True, fc='#DAE8FC', ec='#8EA9C9', lw=1, zorder=4.5))
    rbox(xt - 76, xt + 81, yt + 40, yt + 79, '#FDBF14', '#C9A040', 'Combined ROI', 13.3)

# ---------- Decoding task panels ----------
A_ind = [A_lATL, A_rATL, A_AG, A_PTC, A_IFG, A_PVA]
B_ind = [B_lATL, B_rATL, B_AG, B_PTC, B_IFG, B_PVA]
panel((61, 495, 130, 358), A_ind, roi_colors, (0.448, 0.878), [.45, .50, .55, .60, .65, .70, .75, .80, .85],
      10.5, 1.6, sem=0.012, glw=1.2, pad=7)
frame(9, 507, 123, 388, BLUE, 2.3)
panel((585, 1018, 131, 358), B_ind, roi_colors, (0.4495, 0.725), [.45, .50, .55, .60, .65, .70],
      10.5, 1.6, sem=0.012, glw=1.2, pad=7)
frame(533, 1030, 123, 388, BLUE, 2.3)

panel((33, 231, 404, 508), [A_comb], ['#222222'], (0.451, 0.874), [.50, .55, .60, .65, .70, .75, .80, .85],
      3.5, 0.9, sem=0.006, glw=0.6, pad=2.5, vlw=0.9, dlw=0.7)
frame(9, 237, 399, 518, GOLD, 3)
panel((827, 1023, 403, 506), [B_comb], ['#222222'], (0.459, 0.707), [.50, .55, .60, .65, .70],
      3.5, 0.9, sem=0.006, glw=0.6, pad=2.5, vlw=0.9, dlw=0.7)
frame(803, 1029, 399, 518, GOLD, 3)

A_w = [Aw_lATL, Aw_rATL, Aw_AG, Aw_PTC, Aw_IFG, Aw_PVA]
B_w = [Bw_lATL, Bw_rATL, Bw_AG, Bw_PTC, Bw_IFG, Bw_PVA]
panel((41, 481, 541, 765), A_w, roi_colors, (0.24, 6.33), [1, 2, 3, 4, 5, 6], 10.5, 1.7,
      chance=False, glw=1.2, pad=7, scale=1e-11, fmt=None)
frame(10, 494, 520, 795, GOLD, 3)
panel((589, 1018, 541, 765), B_w, roi_colors, (0.13, 3.72), [0.5, 1.0, 1.5, 2.0, 2.5, 3.0, 3.5], 10.5, 1.7,
      chance=False, glw=1.2, pad=7, scale=1e-11, fmt=None)
frame(546, 1029, 520, 795, GOLD, 3)

# ---------- Stimulus feature panels ----------
L_ind = [L_lATL, L_rATL, L_AG, L_PTC, L_IFG, L_PVA]
S_ind = [S_lATL, S_rATL, S_AG, S_PTC, S_IFG, S_PVA]
L_yel = [L_yel_lATL, L_yel_rATL, L_yel_AG, L_yel_PTC, L_yel_IFG, L_yel_PVA]
S_yel = [S_yel_lATL, S_yel_rATL, S_yel_AG, S_yel_PTC, S_yel_IFG, S_yel_PVA]
S_grn = [S_grn_lATL, S_grn_rATL, S_grn_AG, S_grn_PTC, S_grn_IFG, S_grn_PVA]
L_ylim = [(0.451, 0.571), (0.455, 0.559), (0.4565, 0.553), (0.4473, 0.5634), (0.4453, 0.5563), (0.4437, 0.5493)]
S_ylim = [(0.4694, 0.5544), (0.4762, 0.5497), (0.4714, 0.5332), (0.4724, 0.5523), (0.4732, 0.5442), (0.4726, 0.5448)]

rows_ax = [(127, 263), (284, 421), (443, 579)]
rows_fr = [(122, 279), (279, 438), (438, 598)]
L_cols_ax = [(1111, 1370), (1407, 1667)]
L_cols_fr = [(1078, 1378), (1378, 1677)]
S_cols_ax = [(1748, 2009), (2044, 2305)]
S_cols_fr = [(1716, 2014), (2014, 2314)]

for i in range(6):
    r, c = divmod(i, 2)
    panel((L_cols_ax[c][0], L_cols_ax[c][1], rows_ax[r][0], rows_ax[r][1]), [L_ind[i]], [roi_colors[i]],
          L_ylim[i], L_yt[i], 6, 0.9, sem=0.011, yel=L_yel[i], glw=0.7, pad=4, vlw=1.0, dlw=0.9)
    frame(L_cols_fr[c][0], L_cols_fr[c][1], rows_fr[r][0], rows_fr[r][1], BLUE, 2.2)
    panel((S_cols_ax[c][0], S_cols_ax[c][1], rows_ax[r][0], rows_ax[r][1]), [S_ind[i]], [roi_colors[i]],
          S_ylim[i], S_yt[i], 6, 0.9, sem=0.006, yel=S_yel[i], grn=S_grn[i], glw=0.7, pad=4, vlw=1.0, dlw=0.9)
    frame(S_cols_fr[c][0], S_cols_fr[c][1], rows_fr[r][0], rows_fr[r][1], BLUE, 2.2)

L_w = [Lw_lATL, Lw_rATL, Lw_AG, Lw_PTC, Lw_IFG, Lw_PVA]
S_w = [Sw_lATL, Sw_rATL, Sw_AG, Sw_PTC, Sw_IFG, Sw_PVA]
panel((1107, 1405, 618, 774), L_w, roi_colors, (0.63, 3.83), [1.0, 1.5, 2.0, 2.5, 3.0, 3.5], 7, 1.3,
      chance=False, glw=0.9, pad=5, scale=1e-11, fmt=None, vlw=1.2)
frame(1076, 1412, 603, 795, GOLD, 3)
panel((1431, 1588, 701, 783), [L_comb], ['#222222'], (0.447, 0.563), [.46, .48, .50, .52, .54, .56],
      3.5, 0.8, sem=0.008, yel=L_comb_yel, glw=0.5, pad=2.5, vlw=0.8, dlw=0.6)
frame(1413, 1593, 697, 795, GOLD, 3)

panel((2006, 2304, 618, 774), S_w, roi_colors, (0.98, 4.79), [1.0, 1.5, 2.0, 2.5, 3.0, 3.5, 4.0, 4.5], 7, 1.3,
      chance=False, glw=0.9, pad=5, scale=1e-11, fmt=None, vlw=1.2)
frame(1975, 2313, 603, 795, GOLD, 3)
panel((1817, 1974, 702, 783), [S_comb], ['#222222'], (0.469, 0.551),
      [.47, .48, .49, .50, .51, .52, .53, .54, .55],
      3.5, 0.8, sem=0.006, yel=S_comb_yel, grn=S_comb_grn, glw=0.5, pad=2.5, vlw=0.8, dlw=0.6)
frame(1797, 1975, 697, 795, GOLD, 3)

# ---------- legend ----------
leg_sq_x = [1106, 1239, 1371, 1503, 1634, 1766]
leg_tx_x = [1157, 1290, 1421, 1552, 1687, 1818]
leg_tx_y = [843, 839, 843, 843, 843, 843]
for name, col, sx, tx, ty in zip(roi_names, roi_colors, leg_sq_x, leg_tx_x, leg_tx_y):
    bg.add_patch(Rectangle((sx, 826), 44, 35, fc=col, ec='none', zorder=6))
    bg.text(tx, ty, name, fontsize=18, color='#595959', ha='left', va='center', zorder=7)
bg.add_patch(Rectangle((1910, 839), 33, 8, fc='#2E2B5F', ec='none', zorder=6))
bg.text(1957, 843, 'chance', fontsize=18, color='#595959', ha='left', va='center', zorder=7)
bg.add_patch(Rectangle((2101, 826), 44, 35, fc='#86C832', ec='none', zorder=6))
bg.text(2159, 843, 'p<0.05', fontsize=18, color='#595959', ha='left', va='center', zorder=7)
bg.text(2143, 876, '(corrected)', fontsize=18, color='#595959', ha='left', va='center', zorder=7)

fig.savefig('out.png', dpi=100)
